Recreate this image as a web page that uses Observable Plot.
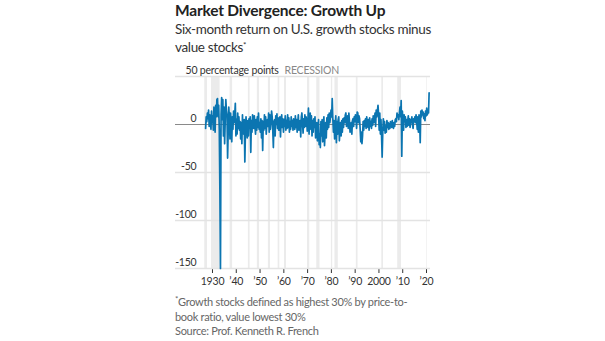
<!DOCTYPE html>
<html><head><meta charset="utf-8">
<script src="https://cdn.jsdelivr.net/npm/d3@7"></script>
<script src="https://cdn.jsdelivr.net/npm/@observablehq/plot@0.6"></script>
<style>
body{margin:0;width:605px;height:341px;background:#fff;font-family:Lato,"Noto Sans",sans-serif;position:relative;overflow:hidden}
#title{position:absolute;left:175px;top:0px;font-size:15.5px;letter-spacing:-0.2px;font-weight:700;color:#222;line-height:20px;white-space:nowrap}
#sub{position:absolute;left:175px;top:20px;font-size:13.5px;letter-spacing:-0.35px;color:#333;line-height:18px;white-space:nowrap}
#chart{position:absolute;left:0;top:56px}
#notes{position:absolute;left:175px;top:295px;font-size:11px;letter-spacing:-0.3px;color:#666;line-height:14.5px;white-space:nowrap}
sup{font-size:8px;vertical-align:4px;line-height:0}
</style></head><body>
<div id="title">Market Divergence: Growth Up</div>
<div id="sub">Six-month return on U.S. growth stocks minus<br>value stocks<sup>*</sup></div>
<div id="chart"></div>
<div id="notes"><sup>*</sup>Growth stocks defined as highest 30% by price-to-<br>book ratio, value lowest 30%<br>Source: Prof. Kenneth R. French</div>
<script>
// Quarterly six-month return, growth minus value (percentage points), from 1927.1
const startYear = 1927.1;
const returns = [
-4,8,3,12, 6,15,-2,10, 4,-5,14,2, 9,-6,18,5, -8,20,8,26,
27,8,20,-5, -67,-150,10,28, 5,26,-12,18, -20,4,26,15, 10,-35,-8,18,
6,-15,12,0, -18,8,-5,14, 2,10,22,-12, 5,-10,12,-4, 8,-6,3,-15,
2,-20,10,-8, -10,5,-39,-8, 8,-5,-14,4, -12,6,-3,8, -29,4,-8,10,
6,-4,9,-2, -10,5,-6,8, -3,12,-5,2, -8,6,-14,4, -27,3,-6,10,
-4,8,-10,2, 5,-2,12,-8, 10,-5,3,14, 8,-6,-24,3, 5,-12,9,0,
11,-4,7,-6, -6,8,-13,4, 10,-3,6,-8, 5,-2,9,-6, 4,-4,10,-3,
7,-8,3,-5, 8,-2,4,-6, 6,0,-5,9, -3,5,-8,2, 10,-6,2,4,
-13,8,12,2, -9,6,-3,10, -2,8,5,-7, 3,17,-10,6, 12,-5,9,-12,
4,-8,6,-3, 8,-14,-6,2, -17,-8,5,-21, -10,-24,3,-12, 5,-18,-6,8,
-22,-9,2,-14, 7,-5,10,-3, 12,2,8,15, 8,27,6,-8, 4,-15,-3,9,
-19,3,-10,5, 8,-17,-6,2, -12,4,-8,6, -3,7,2,10, 12,-2,5,9,
-4,12,3,-8, -5,2,-10,4, 6,-2,8,3, 10,5,-4,13, 12,2,9,6,
-5,-18,-8,-20, -12,3,-6,4, -2,6,-4,8, 2,-3,5,-6, 7,-2,3,-4,
6,-1,9,2, 4,12,-2,15, 8,14,20,10, -6,12,-10,5, -12,-34,-8,6,
-6,3,-9,-2, -8,4,-3,2, -5,1,-4,3, 2,-3,4,-1, -4,2,-2,5,
6,3,12,8, 10,5,12,18, 8,25,-33,14, 4,-6,10,3, 8,-3,5,-2,
4,9,-1,6, -3,5,2,8, 0,-4,6,3, 8,2,10,4, -5,8,-8,10,
6,-19,14,8, 15,10,13,6, 11,4,14,9, 17,10,15,12, 33
];
const recessionStart = [1926.75,1929.6,1937.4,1945.1,1948.85,1953.5,1957.6,1960.3,1969.95,1973.85,1980.0,1981.5,1990.5,2001.2,2007.9,2020.1];
const recessionEnd   = [1927.9,1933.2,1938.45,1945.8,1949.8,1954.4,1958.3,1961.1,1970.9,1975.2,1980.55,1982.9,1991.2,2001.9,2009.5,2020.35];
const xTicks = [1930,1940,1950,1960,1970,1980,1990,2000,2010,2020];
const xTickLabels = ["1930","\u201940","\u201950","\u201960","\u201970","\u201980","\u201990","2000","\u201910","\u201920"];
const yTicks = [0,-50,-100,-150];
const gridValues = [50,-50,-100,-150];

const series = returns.map((v,i)=>({year: startYear + i/4, value: v}));
const recessions = recessionStart.map((s,i)=>({start:s, end:recessionEnd[i]}));

const chart = Plot.plot({
  width: 605, height: 237,
  marginLeft: 175, marginRight: 175, marginTop: 20, marginBottom: 25,
  style: {fontFamily: "Lato, 'Noto Sans', sans-serif", fontSize: "10.5px", color: "#333", background: "transparent", letterSpacing: "-0.2px"},
  x: {domain: [1914.44, 2021.68], ticks: xTicks, tickFormat: d => xTickLabels[xTicks.indexOf(d)], tickSize: 5, tickPadding: 4, label: null},
  y: {domain: [-150, 50], axis: null},
  marks: [
    Plot.rect(recessions, {x1: "start", x2: "end", y1: -150, y2: 50, fill: "#ebebeb"}),
    Plot.ruleY(gridValues, {stroke: "#e3e3e3", strokeWidth: 1.5}),
    Plot.ruleY([0], {stroke: "#8a8a8a", strokeWidth: 1}),
    Plot.text(yTicks, {y: d => d, text: d => String(d), frameAnchor: "left", textAnchor: "end", dx: 21, dy: -6, fill: "#333"}),
    Plot.text([50], {y: d => d, text: d => "50 percentage points", frameAnchor: "left", textAnchor: "start", dx: 10, dy: -6, fill: "#333"}),
    Plot.text([50], {y: d => d, text: d => "RECESSION", frameAnchor: "left", textAnchor: "start", dx: 109, dy: -6, fill: "#888", letterSpacing: "0.3px"}),
    Plot.line(series, {x: "year", y: "value", stroke: "#0b75b1", strokeWidth: 1.7, strokeLinejoin: "round"})
  ]
});
document.getElementById("chart").appendChild(chart);
</script>
</body></html>
